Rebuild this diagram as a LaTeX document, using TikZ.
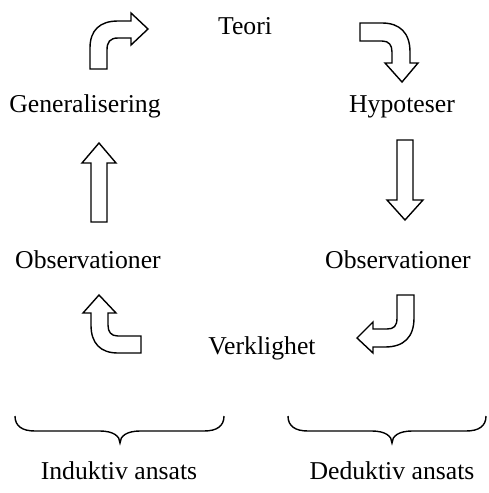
\documentclass[tikz,border=0pt]{standalone}
\usepackage{fontspec}
\setmainfont{Liberation Serif}
\begin{document}
\begin{tikzpicture}[x=1pt,y=-1pt,
  lbl/.style={font=\fontsize{25.7}{30}\selectfont, inner sep=0pt, anchor=base},
  blockarrow/.style={draw=black, fill=white, line width=1.4pt, line join=miter},
  bracepath/.style={draw=black, line width=1.4pt}]
\useasboundingbox (0,0) rectangle (488,493);
% labels
\node[lbl] (teori) at (245,34) {Teori};
\node[lbl] (gen) at (85,112) {Generalisering};
\node[lbl] (hyp) at (402,112) {Hypoteser};
\node[lbl] (obsL) at (88,268) {Observationer};
\node[lbl] (obsR) at (398,268) {Observationer};
\node[lbl] (verk) at (262,354) {Verklighet};
\node[lbl] (ind) at (119,479) {Induktiv ansats};
\node[lbl] (ded) at (392,479) {Deduktiv ansats};
% arrow 1: up then right
\draw[blockarrow] (90,69) -- (90,48) .. controls (90,30) and (100,21) .. (118,21) -- (131,21) -- (131,13) -- (148,29) -- (131,45) -- (131,38) -- (118,38) .. controls (110,38) and (107,42) .. (107,50) -- (107,69) -- cycle;
% arrow 2: right then down
\draw[blockarrow] (360,23) -- (382,23) .. controls (400,23) and (410,33) .. (410,52) -- (410,63) -- (418,63) -- (402,82) -- (385,63) -- (392,63) -- (392,52) .. controls (392,45) and (389,41) .. (382,41) -- (360,41) -- cycle;
% arrow 3: straight up
\draw[blockarrow] (91,222) -- (91,163) -- (82,163) -- (99,143) -- (116,163) -- (107,163) -- (107,222) -- cycle;
% arrow 4: straight down
\draw[blockarrow] (397,140) -- (413,140) -- (413,200) -- (423,200) -- (405,220) -- (387,200) -- (397,200) -- cycle;
% arrow 5: left then up
\draw[blockarrow] (141,353) -- (118,353) .. controls (100,353) and (91,343) .. (91,325) -- (91,313) -- (83,313) -- (99,295) -- (116,313) -- (108,313) -- (108,325) .. controls (108,332) and (111,336) .. (118,336) -- (141,336) -- cycle;
% arrow 6: down then left
\draw[blockarrow] (397,295) -- (414,295) -- (414,318) .. controls (414,337) and (404,347) .. (385,347) -- (373,347) -- (373,353) -- (357,338) -- (373,322) -- (373,329) -- (387,329) .. controls (394,329) and (397,326) .. (397,318) -- cycle;
% braces
\draw[bracepath] (15,416) .. controls (15,426) and (22,431) .. (35,431) -- (100,431) .. controls (113,431) and (120,436) .. (120,443) .. controls (120,436) and (127,431) .. (140,431) -- (204,431) .. controls (217,431) and (224,426) .. (224,416);
\draw[bracepath] (288,416) .. controls (288,426) and (295,431) .. (308,431) -- (372,431) .. controls (385,431) and (392,436) .. (392,443) .. controls (392,436) and (399,431) .. (412,431) -- (466,431) .. controls (479,431) and (486,426) .. (486,416);
\end{tikzpicture}
\end{document}
